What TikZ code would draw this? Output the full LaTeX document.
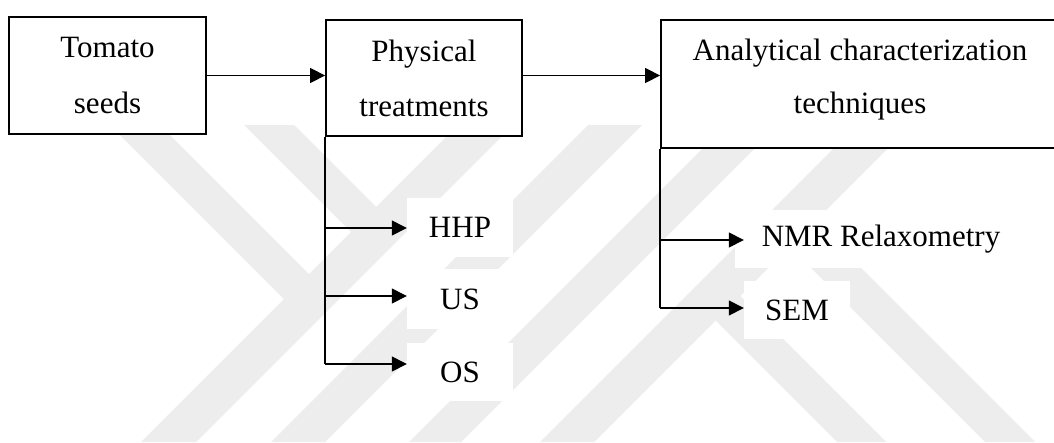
\documentclass[tikz,border=0pt]{standalone}
\usepackage{fontspec}
\setmainfont{Liberation Serif}
\usetikzlibrary{arrows.meta,calc}
\begin{document}
\begin{tikzpicture}[x=1pt,y=-1pt,
  box/.style={draw=black,line width=1.8pt,fill=white,inner sep=0pt,align=center},
  lbl/.style={fill=white,inner sep=0pt,font=\fontsize{31}{37}\selectfont},
  conn/.style={line width=1.4pt,-{Triangle[length=15pt,width=15pt]}},
  trunk/.style={line width=1.4pt},
  wm/.style={fill=black!7,draw=none}]
\useasboundingbox (0,0) rectangle (1054,442);
\fill[white] (0,0) rectangle (1054,442);
% watermark bands
\fill[wm] (458,125) -- (513,125) -- (196,442) -- (141,442) -- cycle;
\fill[wm] (588,125) -- (642,125) -- (325,442) -- (271,442) -- cycle;
\fill[wm] (726,125) -- (778,125) -- (461,442) -- (409,442) -- cycle;
\fill[wm] (857,125) -- (911,125) -- (594,442) -- (540,442) -- cycle;
\fill[wm] (110,125) -- (160,125) -- (322.5,287.5) -- (297.5,312.5) -- cycle;
\fill[wm] (244,125) -- (294,125) -- (389.5,220.5) -- (364.5,245.5) -- cycle;
\fill[wm] (702,307) -- (726.5,282.5) -- (886,442) -- (837,442) -- cycle;
\fill[wm] (776,233) -- (801,208) -- (1035,442) -- (985,442) -- cycle;
% boxes
\node[box,font=\fontsize{31}{56}\selectfont,minimum width=197pt,minimum height=117pt] (tom) at (107.5,75.5) {Tomato\\seeds};
\node[box,font=\fontsize{31}{55}\selectfont,minimum width=196pt,minimum height=116pt] (phy) at (424,78) {Physical\\treatments};
\node[box,font=\fontsize{31}{53}\selectfont,minimum width=398pt,minimum height=128pt] (ana) at (860,84) {Analytical characterization\\techniques\rule[-16pt]{0pt}{16pt}};
% labels
\node[lbl,minimum width=106pt,minimum height=59pt] (hhp) at (460,227.5) {HHP};
\node[lbl,minimum width=106pt,minimum height=60pt] (us) at (460,299) {US};
\node[lbl,minimum width=106pt,minimum height=58pt] (os) at (460,372) {OS};
\node[lbl,minimum width=292pt,minimum height=58pt] (nmr) at (881,239) {NMR Relaxometry};
\node[lbl,minimum width=106pt,minimum height=58pt] (sem) at (797,310) {SEM};
% connectors
\draw[conn] (tom.east) -- (tom.east -| phy.west);
\draw[conn] (tom.east -| phy.east) -- (tom.east -| ana.west);
\draw[trunk] (phy.south west) -- (phy.south west |- 0,364);
\draw[conn] (phy.south west |- 0,228) -- (hhp.west |- 0,228);
\draw[conn] (phy.south west |- 0,296) -- (us.west |- 0,296);
\draw[conn] (phy.south west |- 0,364) -- (os.west |- 0,364);
\draw[trunk] (ana.south west) -- (ana.south west |- 0,308);
\draw[conn] (ana.south west |- 0,240) -- ($(nmr.west |- 0,240)+(9,0)$);
\draw[conn] (ana.south west |- 0,308) -- (sem.west |- 0,308);
\end{tikzpicture}
\end{document}
